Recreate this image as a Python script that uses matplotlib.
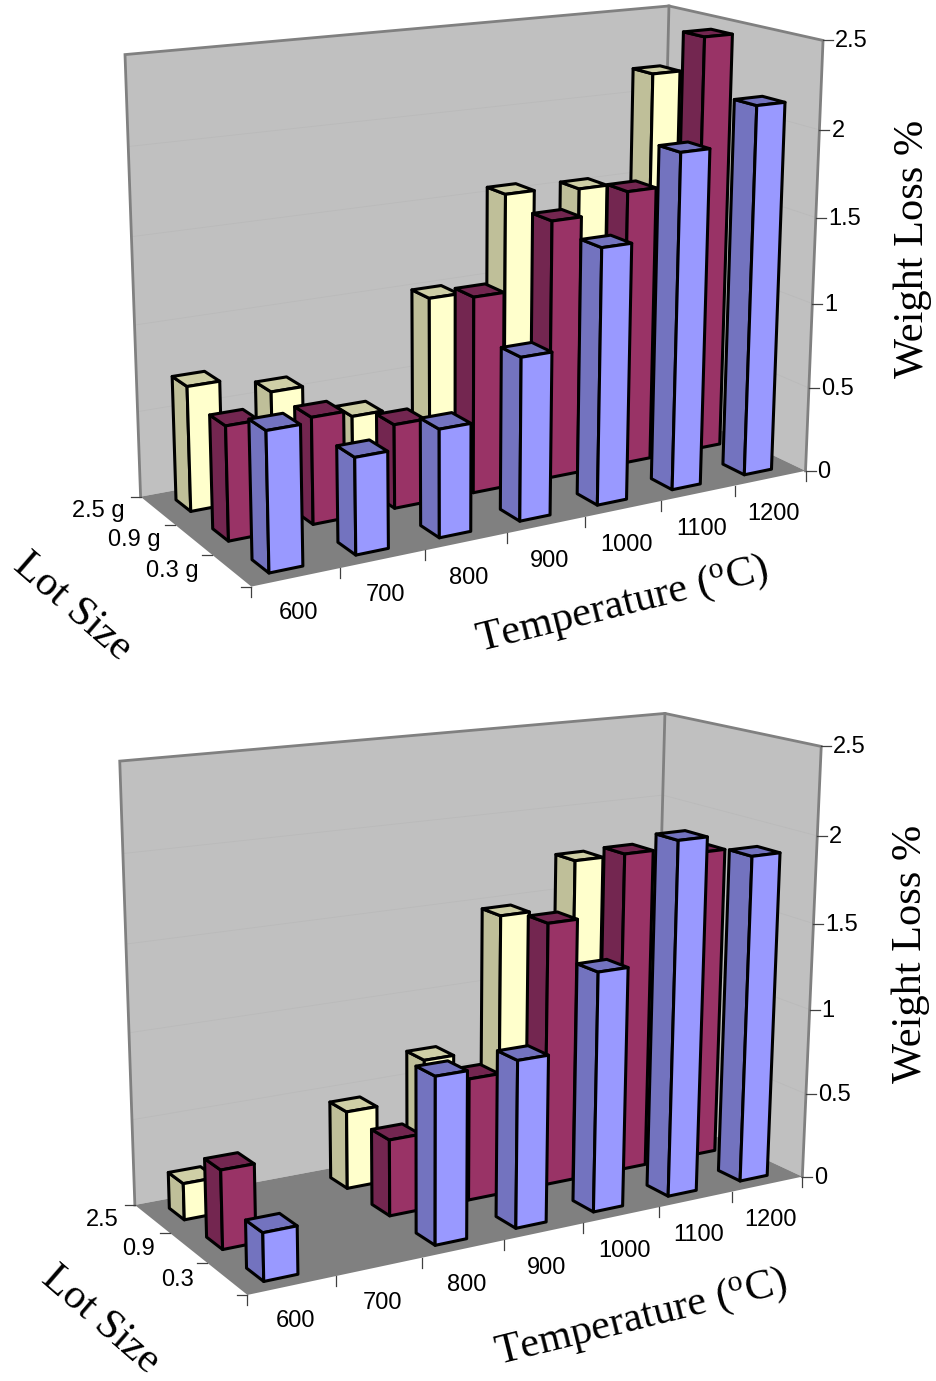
import numpy as np
import matplotlib
matplotlib.use("Agg")
import matplotlib.pyplot as plt
from matplotlib.patches import Polygon

plt.rcParams['font.family'] = ['Liberation Sans', 'DejaVu Sans']
plt.rcParams['mathtext.fontset'] = 'custom'
plt.rcParams['mathtext.rm'] = 'Liberation Serif'

temperatures = ['600', '700', '800', '900', '1000', '1100', '1200']
z_ticks = [0, 0.5, 1, 1.5, 2, 2.5]
z_labels = ['0', '0.5', '1', '1.5', '2', '2.5']
lots_top = ['0.3 g', '0.9 g', '2.5 g']
lots_bottom = ['0.3', '0.9', '2.5']

# weight loss %, one list per lot size
top_small = [0.77, 0.54, 0.61, 0.93, 1.47, 1.94, 2.15]
top_medium = [0.645, 0.61, 0.485, 1.14, 1.51, 1.62, 2.46]
top_large = [0.72, 0.61, 0.385, 1.01, 1.56, 1.535, 2.17]

bottom_small = [0.265, 0, 0.94, 0.95, 1.37, 2.04, 1.90]
bottom_medium = [0.445, 0, 0.44, 0.71, 1.535, 1.875, 1.83]
bottom_large = [0.21, 0, 0.457, 0.685, 1.475, 1.745, 1.64]

# face colours: front, side, top
yellow = ['#FFFFCC', '#BFBF99', '#CFCFA6']
red = ['#993366', '#732650', '#732650']
blue = ['#9999FF', '#7373BF', '#7373BF']

BAR_HALF_X = 0.193
BAR_HALF_Y = 0.21
TICK_SIZE = 17
WORLD = [(0, 0, 0), (7, 0, 0), (0, 3, 0), (7, 3, 0), (0, 3, 2.5), (7, 3, 2.5), (7, 0, 2.5)]


def make_camera(pixels):
    """Fit a perspective camera from the visible corners of the chart box."""
    rows, rhs = [], []
    for (x, y, z), (u, v) in zip(WORLD, pixels):
        rows.append([x, y, z, 1, 0, 0, 0, 0, -u * x, -u * y, -u * z])
        rows.append([0, 0, 0, 0, x, y, z, 1, -v * x, -v * y, -v * z])
        rhs += [u, v]
    p = np.linalg.lstsq(np.array(rows, float), np.array(rhs, float), rcond=None)[0]
    return np.append(p, 1).reshape(3, 4)


def draw_chart(ax, pixels, small, medium, large, lots, bar_shift, xtitle_at, lot_at, ytitle_at):
    cam = make_camera(pixels)

    def project(x, y, z):
        u, v, w = cam @ np.array([x, y, z, 1.0])
        return u / w, v / w

    def face(points, color, **kw):
        ax.add_patch(Polygon([project(*p) for p in points], closed=True, facecolor=color, **kw))

    # walls and floor
    face([(0, 3, 0), (7, 3, 0), (7, 3, 2.5), (0, 3, 2.5)], '#C0C0C0', edgecolor='none', zorder=1)
    face([(7, 3, 0), (7, 0, 0), (7, 0, 2.5), (7, 3, 2.5)], '#C0C0C0', edgecolor='none', zorder=1)
    face([(0, 0, 0), (7, 0, 0), (7, 3, 0), (0, 3, 0)], '#808080', edgecolor='none', zorder=1)
    for z in z_ticks[1:-1]:
        line = [project(0, 3, z), project(7, 3, z), project(7, 0, z)]
        ax.plot(*zip(*line), color='#BABABA', lw=0.6, zorder=2)
    edge = [project(0, 3, 0), project(0, 3, 2.5), project(7, 3, 2.5), project(7, 0, 2.5), project(7, 0, 0)]
    ax.plot(*zip(*edge), color='#808080', lw=2.0, solid_joinstyle='miter', zorder=2)
    ax.plot(*zip(project(7, 3, 0), project(7, 3, 2.5)), color='#808080', lw=2.0, zorder=2)

    # bars, back row first, right to left
    rows = [(2.5, large, yellow), (1.475, medium, red), (0.45, small, blue)]
    for yc, values, colors in rows:
        for i in range(len(values) - 1, -1, -1):
            h = values[i]
            if h == 0:
                continue
            xc = i + 0.5 + bar_shift
            x0, x1 = xc - BAR_HALF_X, xc + BAR_HALF_X
            y0, y1 = yc - BAR_HALF_Y, yc + BAR_HALF_Y
            style = dict(edgecolor='black', lw=2.2, joinstyle='round', zorder=3)
            face([(x0, y0, 0), (x0, y1, 0), (x0, y1, h), (x0, y0, h)], colors[1], **style)
            face([(x0, y0, h), (x0, y1, h), (x1, y1, h), (x1, y0, h)], colors[2], **style)
            face([(x0, y0, 0), (x1, y0, 0), (x1, y0, h), (x0, y0, h)], colors[0], **style)

    # ticks and tick labels
    tick = dict(color='#404040', lw=0.9, zorder=2)
    for i in range(8):
        u, v = project(i, 0, 0)
        ax.plot([u, u], [v, v + 10], **tick)
    for i, name in enumerate(temperatures):
        u, v = project(i + 0.5, 0, 0)
        ax.text(u + 3, v + 36, name, fontsize=TICK_SIZE, ha='center', va='center')
    for j in range(4):
        u, v = project(0, j, 0)
        ax.plot([u - 10, u], [v, v], **tick)
    for j, name in enumerate(lots):
        u, v = project(0, j + 0.5, 0)
        ax.text(u - 33, v + 1, name, fontsize=TICK_SIZE, ha='right', va='center')
    for z, name in zip(z_ticks, z_labels):
        u, v = project(7, 0, z)
        ax.plot([u, u + 10], [v, v], **tick)
        ax.text(u + 12, v + 1, name, fontsize=TICK_SIZE, ha='left', va='center')

    # axis titles
    title = dict(family=['Liberation Serif'], fontsize=30.5, ha='center', va='center', rotation_mode='anchor')
    ax.text(*xtitle_at, 'Temperature ($\\mathrm{^{o}}$C)', rotation=14, **title)
    ax.text(*lot_at, 'Lot Size', rotation=-41, **title)
    ax.text(*ytitle_at, 'Weight Loss %', rotation=90, **title)


fig = plt.figure(figsize=(9.36, 13.81), dpi=100)
ax = fig.add_axes([0, 0, 1, 1])
ax.set_xlim(0, 936)
ax.set_ylim(1381, 0)
ax.axis('off')

top_box = [(252, 588), (805, 470), (140, 495), (660, 402), (125, 55), (669, 6), (823, 40)]
bottom_box = [(247, 1295), (802, 1176), (135, 1205), (655, 1108), (120, 761), (664, 713), (822, 747)]

draw_chart(ax, top_box, top_small, top_medium, top_large, lots_top, 0.0,
           (622, 605), (72, 607), (913, 249))
draw_chart(ax, bottom_box, bottom_small, bottom_medium, bottom_large, lots_bottom, -0.015,
           (641, 1318), (100, 1320), (911, 954))

fig.savefig('out.png', dpi=100)
